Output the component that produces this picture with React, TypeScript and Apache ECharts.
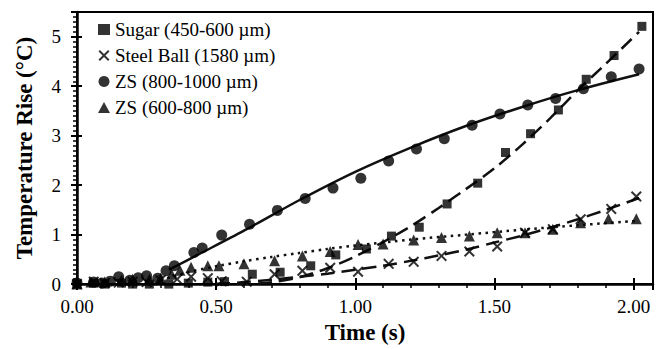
import React, { useEffect, useRef } from "react";
import * as echarts from "echarts";

// Measured temperature rise (°C) against time (s) for each particle type
const sugarTime = [0.0, 0.06, 0.1, 0.16, 0.2, 0.26, 0.33, 0.4, 0.47, 0.53, 0.63, 0.73, 0.84, 0.93, 1.04, 1.13, 1.23, 1.33, 1.44, 1.54, 1.63, 1.73, 1.83, 1.93, 2.03];
const sugarRise = [0.0, 0.02, 0.0, 0.02, 0.0, 0.0, 0.0, 0.02, 0.04, 0.05, 0.2, 0.24, 0.37, 0.59, 0.71, 0.97, 1.15, 1.62, 2.04, 2.66, 3.04, 3.52, 4.14, 4.62, 5.21];

const steelTime = [0.0, 0.06, 0.1, 0.15, 0.2, 0.25, 0.3, 0.36, 0.41, 0.47, 0.52, 0.61, 0.71, 0.81, 0.91, 1.01, 1.12, 1.21, 1.31, 1.41, 1.51, 1.61, 1.71, 1.81, 1.92, 2.01];
const steelRise = [0.0, 0.05, 0.02, 0.03, 0.05, 0.04, 0.08, 0.1, 0.15, 0.12, 0.06, 0.05, 0.2, 0.27, 0.33, 0.25, 0.41, 0.45, 0.57, 0.66, 0.76, 1.04, 1.11, 1.31, 1.52, 1.77];

const zs800Time = [0.0, 0.06, 0.09, 0.12, 0.15, 0.19, 0.22, 0.25, 0.29, 0.32, 0.35, 0.42, 0.45, 0.52, 0.62, 0.72, 0.82, 0.92, 1.02, 1.12, 1.22, 1.32, 1.42, 1.52, 1.62, 1.72, 1.82, 1.92, 2.02];
const zs800Rise = [0.02, 0.04, 0.02, 0.06, 0.15, 0.08, 0.13, 0.17, 0.12, 0.27, 0.37, 0.64, 0.73, 0.99, 1.21, 1.49, 1.73, 1.94, 2.14, 2.49, 2.73, 2.94, 3.21, 3.44, 3.62, 3.75, 3.95, 4.19, 4.35];

const zs600Time = [0.0, 0.05, 0.1, 0.16, 0.2, 0.26, 0.3, 0.34, 0.37, 0.41, 0.47, 0.51, 0.6, 0.71, 0.81, 0.91, 1.01, 1.1, 1.21, 1.31, 1.41, 1.51, 1.61, 1.71, 1.81, 1.91, 2.01];
const zs600Rise = [0.0, 0.04, 0.05, 0.08, 0.1, 0.1, 0.12, 0.2, 0.28, 0.34, 0.37, 0.37, 0.41, 0.47, 0.57, 0.66, 0.8, 0.81, 0.89, 0.94, 0.97, 1.04, 1.04, 1.11, 1.24, 1.32, 1.32];

// Trend curves
const sugarFitTime = [0.5, 0.6, 0.7, 0.8, 0.9, 1.0, 1.1, 1.2, 1.3, 1.4, 1.5, 1.6, 1.7, 1.8, 1.9, 2.02];
const sugarFitRise = [0.0, 0.0, 0.04, 0.14, 0.32, 0.56, 0.85, 1.17, 1.54, 1.93, 2.34, 2.82, 3.35, 3.92, 4.45, 5.1];

const steelFitTime = [0.5, 0.6, 0.7, 0.8, 0.9, 1.0, 1.1, 1.2, 1.3, 1.4, 1.5, 1.6, 1.7, 1.8, 1.9, 2.02];
const steelFitRise = [0.0, 0.04, 0.09, 0.15, 0.21, 0.29, 0.37, 0.47, 0.58, 0.7, 0.84, 0.98, 1.14, 1.31, 1.5, 1.74];

const zs800FitTime = [0.33, 0.44, 0.6, 0.8, 1.0, 1.2, 1.4, 1.6, 1.8, 2.02];
const zs800FitRise = [0.29, 0.61, 1.08, 1.7, 2.27, 2.76, 3.2, 3.58, 3.92, 4.24];

const zs600FitTime = [0.3, 0.4, 0.5, 0.6, 0.7, 0.8, 0.9, 1.0, 1.2, 1.4, 1.6, 1.8, 2.02];
const zs600FitRise = [0.08, 0.24, 0.36, 0.46, 0.55, 0.63, 0.71, 0.78, 0.9, 1.0, 1.1, 1.19, 1.28];

const seriesNames = ["Sugar (450-600 µm)", "Steel Ball (1580 µm)", "ZS (800-1000 µm)", "ZS (600-800 µm)"];

const xTickValues = [0, 0.5, 1.0, 1.5, 2.0];
const yTickValues = [0, 1, 2, 3, 4, 5];

const serif = '"Times New Roman", "Liberation Serif", Tinos, "DejaVu Serif", serif';
const crossPath =
  "path://M0,1.3 L1.3,0 L5,3.7 L8.7,0 L10,1.3 L6.3,5 L10,8.7 L8.7,10 L5,6.3 L1.3,10 L0,8.7 L3.7,5 Z";

const zip = (xs: number[], ys: number[]) => xs.map((x, i) => [x, ys[i]]);
const isTick = (v: number, list: number[]) => list.some((t) => Math.abs(t - v) < 1e-6);

export default function App() {
  const ref = useRef<HTMLDivElement>(null);

  useEffect(() => {
    if (!ref.current) return;
    const chart = echarts.init(ref.current, null, { renderer: "svg" });
    const black = "#000";
    const xMin = 0;
    const xMax = 2.07;
    const yMin = 0;
    const yMax = 5.5;

    const plainX = {
      type: "value" as const,
      min: xMin,
      max: xMax,
      position: "bottom" as const,
      axisLine: { show: false, onZero: false },
      axisLabel: { show: false },
      splitLine: { show: false },
    };
    const plainY = {
      type: "value" as const,
      min: yMin,
      max: yMax,
      position: "left" as const,
      axisLine: { show: false, onZero: false },
      axisLabel: { show: false },
      splitLine: { show: false },
    };

    const scatter = (name: string, xs: number[], ys: number[], symbol: string, size: number) => ({
      name,
      type: "scatter",
      data: zip(xs, ys),
      symbol,
      symbolSize: size,
      itemStyle: { color: black },
      z: 5,
    });
    const fit = (name: string, xs: number[], ys: number[], type: any) => ({
      name,
      type: "line",
      data: zip(xs, ys),
      smooth: 0.3,
      showSymbol: false,
      symbol: "none",
      lineStyle: { color: "#111", width: 2.5, type, cap: "butt" },
      z: 3,
    });

    chart.setOption({
      animation: false,
      backgroundColor: "#fff",
      textStyle: { fontFamily: serif },
      grid: {
        left: 77,
        right: 16,
        top: 12,
        bottom: 62,
        show: true,
        borderColor: black,
        borderWidth: 2,
      },
      legend: {
        orient: "vertical",
        left: 93,
        top: 15,
        itemWidth: 12,
        itemHeight: 11,
        itemGap: 7,
        textStyle: { fontFamily: serif, fontSize: 19, color: black, lineHeight: 19 },
        data: [
          { name: seriesNames[0], icon: "rect" },
          { name: seriesNames[1], icon: crossPath },
          { name: seriesNames[2], icon: "circle" },
          { name: seriesNames[3], icon: "triangle" },
        ],
      },
      xAxis: [
        {
          type: "value",
          min: xMin,
          max: xMax,
          interval: 0.5,
          position: "bottom",
          axisLine: { onZero: false, lineStyle: { color: black, width: 2.5 } },
          axisTick: { length: 6, lineStyle: { color: black, width: 2 } },
          axisLabel: {
            margin: 13,
            fontFamily: serif,
            fontSize: 19,
            color: black,
            formatter: (v: number) => (isTick(v, xTickValues) ? v.toFixed(2) : ""),
          },
          splitLine: { show: false },
          name: "Time (s)",
          nameLocation: "middle",
          nameGap: 35,
          nameTextStyle: { fontFamily: serif, fontSize: 23, fontWeight: "bold", color: black },
        },
        { ...plainX, interval: 0.1, axisTick: { length: 4, lineStyle: { color: black, width: 1.5 } } },
        { ...plainX, interval: 0.5, axisTick: { inside: true, length: 6, lineStyle: { color: black, width: 2 } } },
      ],
      yAxis: [
        {
          type: "value",
          min: yMin,
          max: yMax,
          interval: 1,
          position: "left",
          axisLine: { onZero: false, lineStyle: { color: black, width: 2.5 } },
          axisTick: { length: 6, lineStyle: { color: black, width: 2 } },
          axisLabel: {
            margin: 16,
            fontFamily: serif,
            fontSize: 19,
            color: black,
            formatter: (v: number) => (isTick(v, yTickValues) ? String(v) : ""),
          },
          splitLine: { show: false },
          name: "Temperature Rise (°C)",
          nameLocation: "middle",
          nameGap: 41,
          nameTextStyle: { fontFamily: serif, fontSize: 23, fontWeight: "bold", color: black },
        },
        { ...plainY, interval: 0.1, axisTick: { length: 4, lineStyle: { color: black, width: 1.5 } } },
        { ...plainY, interval: 1, axisTick: { inside: true, length: 5, lineStyle: { color: black, width: 2 } } },
      ],
      series: [
        fit("Sugar trend", sugarFitTime, sugarFitRise, [14, 7]),
        fit("Steel Ball trend", steelFitTime, steelFitRise, [14, 7]),
        fit("ZS 800-1000 trend", zs800FitTime, zs800FitRise, "solid"),
        fit("ZS 600-800 trend", zs600FitTime, zs600FitRise, [2.5, 4.5]),
        scatter(seriesNames[0], sugarTime, sugarRise, "rect", 9),
        scatter(seriesNames[1], steelTime, steelRise, crossPath, 11),
        scatter(seriesNames[2], zs800Time, zs800Rise, "circle", 11),
        scatter(seriesNames[3], zs600Time, zs600Rise, "triangle", 11),
      ],
    });

    return () => chart.dispose();
  }, []);

  return (
    <div
      ref={ref}
      style={{ position: "fixed", left: 0, top: 0, width: 669, height: 349, background: "#fff" }}
    />
  );
}
